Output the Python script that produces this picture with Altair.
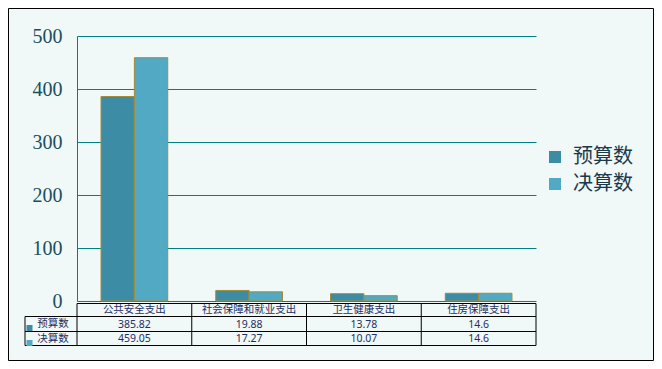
import altair as alt
import pandas as pd

categories = ["公共安全支出", "社会保障和就业支出", "卫生健康支出", "住房保障支出"]
series = ["预算数", "决算数"]
budget = [385.82, 19.88, 13.78, 14.6]
final = [459.05, 17.27, 10.07, 14.6]
budget_labels = ["385.82", "19.88", "13.78", "14.6"]
final_labels = ["459.05", "17.27", "10.07", "14.6"]
y_ticks = [0, 100, 200, 300, 400, 500]
colors = ["#3C8CA5", "#52A9C3"]

W, H = 459, 265
PL, PT, PR, PB = 69, 28, 118, 60
TOTAL_W = PL + W + PR
TOTAL_H = PT + H + PB

TEXT_FONT = "Noto Sans CJK SC"
NUM_FONT = "Noto Sans"
TABLE_COLOR = "#1F2F5F"

long = pd.DataFrame({
    "category": categories * 2,
    "series": [series[0]] * 4 + [series[1]] * 4,
    "value": budget + final,
})
table = pd.DataFrame({"category": categories, "budget": budget_labels, "final": final_labels})
one = pd.DataFrame({"a": [0]})

xs = alt.X("category:N", sort=categories,
           scale=alt.Scale(paddingInner=0, paddingOuter=0), axis=None)

bars = alt.Chart(long).mark_bar(stroke="#A08C3C", strokeWidth=1).encode(
    x=xs,
    xOffset=alt.XOffset("series:N", sort=series,
                        scale=alt.Scale(paddingInner=0, paddingOuter=0.72)),
    y=alt.Y("value:Q", scale=alt.Scale(domain=[0, 500], nice=False),
            axis=alt.Axis(values=y_ticks, title=None, ticks=False,
                          labelFont="Liberation Serif", labelFontSize=20,
                          labelColor="#1B4F5A", labelPadding=15,
                          domainColor="#008080", gridColor="#008080",
                          gridWidth=1, domainWidth=1)),
    color=alt.Color("series:N", sort=series,
                    scale=alt.Scale(domain=series, range=colors),
                    legend=alt.Legend(title=None, orient="none",
                                      legendX=468, legendY=111,
                                      symbolType="square", symbolSize=144,
                                      symbolStrokeWidth=0,
                                      labelFont=TEXT_FONT, labelFontSize=20,
                                      labelColor="#1A3A4A", labelOffset=8,
                                      rowPadding=7)),
)

header = alt.Chart(table).mark_text(font=TEXT_FONT, fontSize=10.5, color=TABLE_COLOR).encode(
    x=xs, y=alt.value(274), text="category:N")
row1 = alt.Chart(table).mark_text(font=NUM_FONT, fontSize=10.5, color=TABLE_COLOR).encode(
    x=xs, y=alt.value(288.5), text="budget:N")
row2 = alt.Chart(table).mark_text(font=NUM_FONT, fontSize=10.5, color=TABLE_COLOR).encode(
    x=xs, y=alt.value(302.5), text="final:N")

lab1 = alt.Chart(pd.DataFrame({"s": [series[0]]})).mark_text(
    font=TEXT_FONT, fontSize=10.5, color=TABLE_COLOR).encode(
    x=alt.value(-24), y=alt.value(288), text="s:N")
lab2 = alt.Chart(pd.DataFrame({"s": [series[1]]})).mark_text(
    font=TEXT_FONT, fontSize=10.5, color=TABLE_COLOR).encode(
    x=alt.value(-24), y=alt.value(302.5), text="s:N")
sq1 = alt.Chart(one).mark_square(size=36, color=colors[0], opacity=1).encode(
    x=alt.value(-47.5), y=alt.value(292))
sq2 = alt.Chart(one).mark_square(size=36, color=colors[1], opacity=1).encode(
    x=alt.value(-47.5), y=alt.value(307))

vlines = alt.Chart(table).mark_rule(color="black", strokeWidth=1).encode(
    x=alt.X("category:N", sort=categories, bandPosition=0,
            scale=alt.Scale(paddingInner=0, paddingOuter=0), axis=None),
    y=alt.value(267.5), y2=alt.value(309.5))
vlast = alt.Chart(one).mark_rule(color="black", strokeWidth=1).encode(
    x=alt.value(459), y=alt.value(267.5), y2=alt.value(309.5))
vleft = alt.Chart(one).mark_rule(color="black", strokeWidth=1).encode(
    x=alt.value(-52), y=alt.value(280.5), y2=alt.value(309.5))
h0 = alt.Chart(one).mark_rule(color="black", strokeWidth=1).encode(
    x=alt.value(0), x2=alt.value(459), y=alt.value(267.5))
h1 = alt.Chart(one).mark_rule(color="black", strokeWidth=1).encode(
    x=alt.value(-52), x2=alt.value(459), y=alt.value(280.5))
h2 = alt.Chart(one).mark_rule(color="black", strokeWidth=1).encode(
    x=alt.value(-52), x2=alt.value(459), y=alt.value(295.5))
h3 = alt.Chart(one).mark_rule(color="black", strokeWidth=1).encode(
    x=alt.value(-52), x2=alt.value(459), y=alt.value(309.5))

frame = alt.Chart(one).mark_rect(fillOpacity=0, stroke="black", strokeWidth=1).encode(
    x=alt.value(-PL + 0.5), x2=alt.value(TOTAL_W - PL - 0.5),
    y=alt.value(-PT + 0.5), y2=alt.value(TOTAL_H - PT - 0.5))

chart = alt.layer(
    bars, h0, h1, h2, h3, vlines, vlast, vleft,
    header, row1, row2, lab1, lab2, sq1, sq2, frame
).properties(
    width=W, height=H,
    autosize=alt.AutoSizeParams(type="none"),
    padding={"left": PL, "top": PT, "right": PR, "bottom": PB},
    background="#F0F8F8",
).configure_view(stroke=None)

chart.save("out.html", embed_options={"renderer": "svg", "actions": False})
